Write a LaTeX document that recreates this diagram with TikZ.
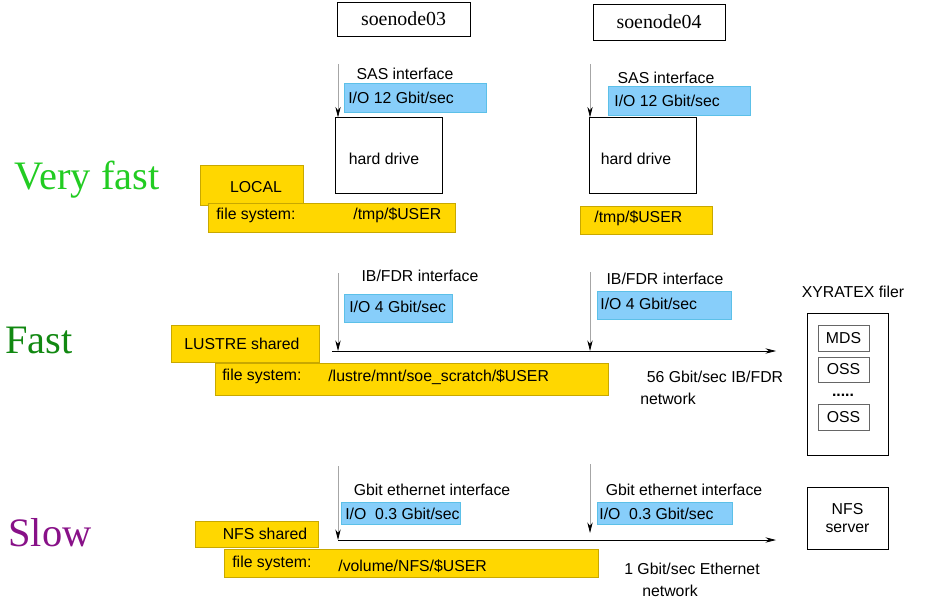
\documentclass[tikz,border=0pt]{standalone}
\usepackage{fontspec}
\setmainfont{Liberation Serif}
\setsansfont{Liberation Sans}
\usetikzlibrary{shapes.geometric,arrows.meta}
\definecolor{jaune}{HTML}{FFD700}
\definecolor{jauneb}{HTML}{C8A800}
\definecolor{bleu}{HTML}{87CEFA}
\definecolor{bleub}{HTML}{5CC0E8}
\definecolor{vert}{HTML}{22CC22}
\definecolor{vertf}{HTML}{118811}
\definecolor{violet}{HTML}{881188}
\begin{document}
\begin{tikzpicture}[x=0.02cm,y=-0.02cm]
			\tikzset{hote/.style={draw=black, font=\fontsize{11.3}{13}\selectfont, inner sep=0pt},
				texte/.style={font=\sffamily\fontsize{9}{10.5}\selectfont, inner sep=0pt},
				jaune/.style={fill=jaune, draw=jauneb, inner sep=0pt},
				bleu/.style={fill=bleu, draw=bleub, inner sep=0pt},
				titre/.style={font=\fontsize{23}{26}\selectfont, inner sep=0pt},
				fleche/.style={draw=black!35, -{Stealth[black,length=6pt,width=3pt]}},
				reseau/.style={draw=black, -{Stealth[length=6pt,width=3pt]}}};

				\useasboundingbox (0,0) rectangle (927,598);

				% machines
				\node[hote, minimum width=133*0.02cm, minimum height=34*0.02cm] (n3) at (403.5,19) {soenode03};
				\node[hote, minimum width=132*0.02cm, minimum height=36*0.02cm] (n4) at (659,22) {soenode04};

				% niveau local
				\node[titre, text=vert] (vf) at (87,180) {Very fast};
				\coordinate (sas3) at (338,64);
				\coordinate (sas4) at (590,64);
				\node[bleu, minimum width=142*0.02cm, minimum height=29*0.02cm] (io3) at (415,97.5) {};
				\node[texte, anchor=west] (io3t) at (348,97.5) {I/O 12 Gbit/sec};
				\node[bleu, minimum width=142*0.02cm, minimum height=29*0.02cm] (io4) at (679,100.5) {};
				\node[texte, anchor=west] (io4t) at (614,100.5) {I/O 12 Gbit/sec};
				\node[texte] (sas3t) at (405,74) {SAS interface};
				\node[texte] (sas4t) at (666,78) {SAS interface};
				\node[cylinder, shape border rotate=90, draw, aspect=0.55, minimum width=107*0.02cm, minimum height=76*0.02cm, inner sep=0pt] (hd3) at (388.5,156) {};
				\node[cylinder, shape border rotate=90, draw, aspect=0.55, minimum width=107*0.02cm, minimum height=76*0.02cm, inner sep=0pt] (hd4) at (643,156) {};
				\node[texte] (hd3t) at (384,159) {hard drive};
				\node[texte] (hd4t) at (636,159) {hard drive};
				\draw[fleche] (sas3) -- (hd3.north -| sas3);
				\draw[fleche] (sas4) -- (hd4.north -| sas4);
				\node[jaune, minimum width=103*0.02cm, minimum height=40*0.02cm] (loc) at (251.5,185) {};
				\node[texte] (loct) at (256,187) {LOCAL};
				\node[jaune, minimum width=247*0.02cm, minimum height=29*0.02cm] (fs1) at (331.5,217.5) {};
				\node[texte, anchor=west] (fs1a) at (216,215) {file system:};
				\node[texte, anchor=west] (fs1b) at (353,215) {/tmp/\$USER};
				\node[jaune, minimum width=132*0.02cm, minimum height=28*0.02cm] (fs1c) at (646,220) {};
				\node[texte, anchor=west] (fs1d) at (594,218) {/tmp/\$USER};

				% niveau lustre
				\node[titre, text=vertf] (fa) at (39,340) {Fast};
				\coordinate (ib3) at (338,273);
				\coordinate (ib4) at (590,272);
				\node[texte] (ib3t) at (420,276) {IB/FDR interface};
				\node[texte] (ib4t) at (665,279) {IB/FDR interface};
				\node[bleu, minimum width=108*0.02cm, minimum height=28*0.02cm] (io5) at (398,308) {};
				\node[texte, anchor=west] (io5t) at (349,307) {I/O 4 Gbit/sec};
				\node[bleu, minimum width=134*0.02cm, minimum height=28*0.02cm] (io6) at (664,305) {};
				\node[texte, anchor=west] (io6t) at (600,304) {I/O 4 Gbit/sec};
				\coordinate (ibd) at (332,351);
				\coordinate (ibf) at (776,351);
				\draw[fleche] (ib3) -- (ib3 |- ibd);
				\draw[fleche] (ib4) -- (ib4 |- ibd);
				\draw[reseau] (ibd) -- (ibf);
				\node[jaune, minimum width=148*0.02cm, minimum height=37*0.02cm] (lus) at (245,343.5) {};
				\node[texte] (lust) at (242,344) {LUSTRE shared};
				\node[jaune, minimum width=393*0.02cm, minimum height=32*0.02cm] (fs2) at (411.5,379) {};
				\node[texte, anchor=west] (fs2a) at (222,376) {file system:};
				\node[texte, anchor=west] (fs2b) at (328,377) {/lustre/mnt/soe\_scratch/\$USER};
				\node[texte] (ibr) at (715,377) {56 Gbit/sec IB/FDR};
				\node[texte] (ibr2) at (668,399) {network};
				\node[texte] (xyt) at (853,292) {XYRATEX filer};
				\node[draw, minimum width=81*0.02cm, minimum height=142*0.02cm, inner sep=0pt] (xy) at (847.5,384) {};
				\node[texte, draw=black!60, minimum width=51*0.02cm, minimum height=26*0.02cm] (mds) at (843.5,338) {MDS};
				\node[texte, draw=black!60, minimum width=51*0.02cm, minimum height=25*0.02cm] (oss1) at (843.5,369.5) {OSS};
				\node[texte] (pts) at (843,395) {\textbf{.....}};
				\node[texte, draw=black!60, minimum width=51*0.02cm, minimum height=26*0.02cm] (oss2) at (843.5,417) {OSS};

				% niveau nfs
				\node[titre, text=violet] (sl) at (50,533) {Slow};
				\coordinate (ge3) at (338,466);
				\coordinate (ge4) at (590,464);
				\node[texte] (ge3t) at (432,490) {Gbit ethernet interface};
				\node[texte] (ge4t) at (684,490) {Gbit ethernet interface};
				\node[bleu, minimum width=119*0.02cm, minimum height=22*0.02cm] (io7) at (400.5,513) {};
				\node[texte, anchor=west] (io7t) at (345,514) {I/O~~0.3 Gbit/sec};
				\node[bleu, minimum width=135*0.02cm, minimum height=22*0.02cm] (io8) at (664.5,513) {};
				\node[texte, anchor=west] (io8t) at (599,514) {I/O~~0.3 Gbit/sec};
				\coordinate (ged) at (338,540);
				\coordinate (gef) at (776,540);
				\draw[fleche] (ge3) -- (ged);
				\draw[fleche] (ge4) -- (ge4 |- 0,533);
				\draw[reseau] (ged) -- (gef);
				\node[jaune, minimum width=123*0.02cm, minimum height=26*0.02cm] (nfs) at (256.5,534) {};
				\node[texte] (nfst) at (265,534) {NFS shared};
				\node[jaune, minimum width=374*0.02cm, minimum height=28*0.02cm] (fs3) at (411,563) {};
				\node[texte, anchor=west] (fs3a) at (232,563) {file system:};
				\node[texte, anchor=west] (fs3b) at (338,566) {/volume/NFS/\$USER};
				\node[texte] (ger) at (692,569) {1 Gbit/sec Ethernet};
				\node[texte] (ger2) at (670,591) {network};
				\node[texte, draw=black, minimum width=81*0.02cm, minimum height=62*0.02cm, align=center] (srv) at (847.5,518) {NFS\\server};

		\end{tikzpicture}
\end{document}
